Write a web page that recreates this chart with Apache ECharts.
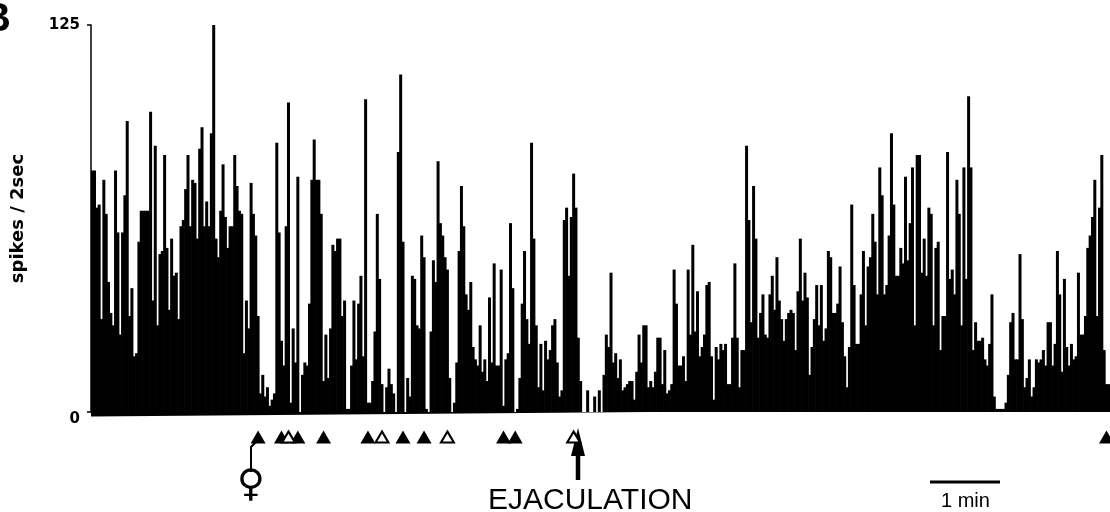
<!DOCTYPE html>
<html><head><meta charset="utf-8">
<style>html,body{margin:0;padding:0;background:#fff}#c{width:1110px;height:512px}</style>
<script src="https://cdn.jsdelivr.net/npm/echarts@6/dist/echarts.min.js"></script></head>
<body><div id="c"></div>
<script>
const spikesBeforeFemale = [78,78,66,67,30,75,64,42,32,28,78,58,25,58,70,94,31,40,18,19,55,65,65,65,65,97,36,86,28,51,52,83,53,33,56,44,45,30,60,62,72,83,60,75,74,56,85,92,60,68,60,90,125,56,50,65,80,63,53,60,60,83,73,65,64,19,36,27,74,64,57,31,6,12,5,8,2,4,6,87,58,23,15,60,100,3,27,16,76,0,12,16,15,35,75,88,75,75,64,10,25,11,27,54,52,56,56,31,36,1,1];
const spikesAroundEjaculation = [15,36,17,35,44,18,101,3,3,10,26,64,43,9,0,8,14,9,6,0,84,109,55,0,11,5,44,43,28,27,57,50,1,0,26,49,42,81,61,57,50,46,11,0,3,16,52,73,60,38,33,42,21,17,15,28,13,17,10,37,16,48,15,15,46,2,17,19,61,40,0,1,11,35,52,30,22,87,56,28,8,22,7,23,17,20,28,30,16,5,7,62,66,44,63,77,66,24,10,0,0,7,0,0,5,0,7,0,12,25,21,45,16,19,11,17,7,8,9,10,10,4,13,25,16,28,28,8,10,8,13,24,24,9,20,6,7,9,46,35,15,15,18,10,46,25,54,26,39,18];
const spikesLate = [21,25,41,42,18,4,21,17,22,20,22,9,9,24,48,24,8,20,20,86,62,29,73,56,24,32,38,25,24,38,44,33,50,36,30,23,30,32,33,32,20,39,56,36,45,37,12,21,30,41,28,41,23,27,52,50,32,32,35,47,29,18,8,21,67,41,22,22,38,52,28,47,50,64,55,38,79,70,38,41,57,90,67,44,44,53,48,76,49,61,79,28,83,83,45,56,44,66,64,28,53,55,20,31,31,84,43,46,38,75,64,28,79,43,102,79,20,29,23,23,24,17,15,22,38,5,1,1,1,1,3,12,29,32,17,17,51,30,8,11,17,5,8,17,16,17,20,15,29,29,15,22,52,38,13,43,21,15,22,17,18,45,25,25,31,53,57,63,75,31,66,83,20,9,9];
const spikes = [...spikesBeforeFemale, ...spikesAroundEjaculation, ...spikesLate];
const bins = spikes.map((_, i) => i);
const filledMarks = [71,81,88,99,118,133,142,176,181,434];
const openMarks = [84,124,152,206];
const font = '"Liberation Sans", Arial, sans-serif';

const chart = echarts.init(document.getElementById('c'), null, {renderer:'canvas'});
chart.setOption({
  animation:false,
  backgroundColor:'#fff',
  grid:[
    {left:91, right:0, top:25, height:387},
    {left:91, right:0, top:425, height:24}
  ],
  xAxis:[
    {type:'category', data:bins, gridIndex:0, axisTick:{show:false}, axisLabel:{show:false},
     axisLine:{show:false}, splitLine:{show:false}},
    {type:'category', data:bins, gridIndex:1, show:false}
  ],
  yAxis:[
    {type:'value', gridIndex:0, min:0, max:125, interval:125, splitLine:{show:false},
     axisLine:{show:true, lineStyle:{color:'#000', width:1.5}},
     axisTick:{show:true, length:4, lineStyle:{color:'#000', width:1.5}},
     axisLabel:{color:'#000', fontFamily:'"DejaVu Sans"', fontWeight:'bold', fontSize:15, margin:11, verticalAlignMinLabel:'top'},
     name:'spikes / 2sec', nameLocation:'middle', nameGap:64, nameRotate:90,
     nameTextStyle:{color:'#000', fontFamily:'"DejaVu Sans"', fontWeight:'bold', fontSize:18}},
    {type:'value', gridIndex:1, min:0, max:1, show:false}
  ],
  series:[
    {type:'bar', data:spikes, xAxisIndex:0, yAxisIndex:0, barWidth:3, barGap:'0%',
     itemStyle:{color:'#000'}, silent:true},
    {type:'scatter', xAxisIndex:1, yAxisIndex:1, data:filledMarks.map(b=>[b,0.5]), symbol:'triangle',
     symbolSize:[15,13], itemStyle:{color:'#000', opacity:1}, silent:true},
    {type:'scatter', xAxisIndex:1, yAxisIndex:1, data:openMarks.map(b=>[b,0.5]), symbol:'triangle',
     symbolSize:[13,11], itemStyle:{color:'#fff', borderColor:'#000', borderWidth:2, opacity:1}, silent:true}
  ],
  graphic:[
    {type:'polygon', shape:{points:[[91,412],[91,416.5],[650,412]]}, style:{fill:'#000'}},
    {type:'polygon', shape:{points:[[650,413],[1110,407.5],[1110,414]]}, style:{fill:'#fff'}},
    {type:'text', left:-18, top:0, style:{text:'B', fill:'#000', font:'bold 40px '+font}},
    {type:'text', left:237, top:467, style:{text:'\u2640', fill:'#000', font:'38px "DejaVu Sans"'}},
    {type:'polyline', shape:{points:[[251,472],[251,447],[257,441]]}, style:{stroke:'#000', lineWidth:2, fill:null}},
    {type:'line', shape:{x1:578,y1:480,x2:578,y2:445}, style:{stroke:'#000', lineWidth:4.5}},
    {type:'polygon', shape:{points:[[578,428],[585,456],[571,456]]}, style:{fill:'#000'}},
    {type:'text', left:488, top:486, style:{text:'EJACULATION', fill:'#000', font:'30px '+font}},
    {type:'line', shape:{x1:930,y1:482,x2:1000,y2:482}, style:{stroke:'#000', lineWidth:3}},
    {type:'text', left:941, top:491, style:{text:'1 min', fill:'#000', font:'20px '+font}}
  ]
});
</script></body></html>
